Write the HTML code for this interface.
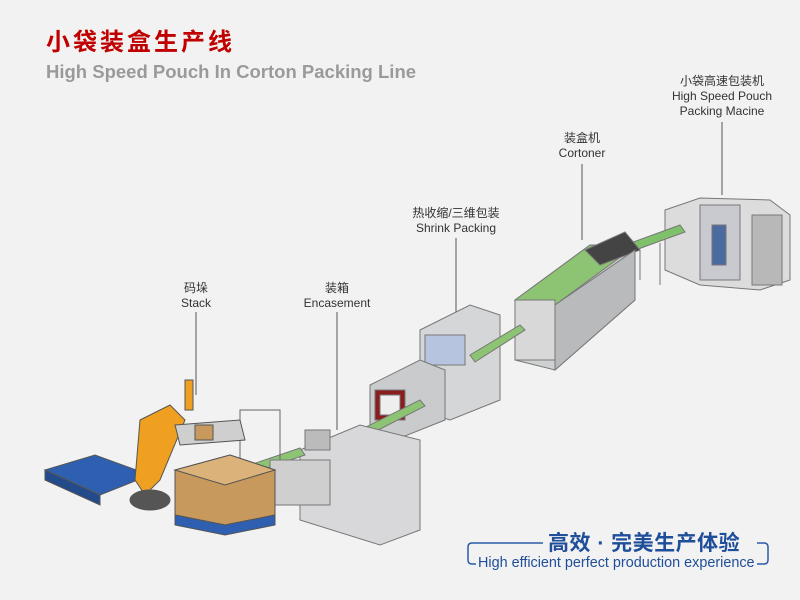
<!DOCTYPE html>
<html><head><meta charset="utf-8"><style>
body{margin:0;width:800px;height:600px;background:#f2f2f2;overflow:hidden;font-family:"Liberation Sans","Noto Sans CJK SC",sans-serif;position:relative}
.t{position:absolute;white-space:nowrap;text-align:center;color:#333;font-size:12px;line-height:15px}
</style></head><body>
<div class="t" style="left:46px;top:29px;font-size:24px;line-height:28px;color:#c00000;font-weight:bold;letter-spacing:3px">小袋装盒生产线</div>
<div class="t" style="left:46px;top:61px;font-size:18.5px;line-height:21px;color:#9a9a9a;font-weight:bold">High Speed Pouch In Corton Packing Line</div>

<div class="t" style="left:662px;top:74px;width:120px">小袋高速包装机<br>High Speed Pouch<br>Packing Macine</div>
<div class="t" style="left:540px;top:131px;width:84px">装盒机<br>Cortoner</div>
<div class="t" style="left:400px;top:206px;width:112px">热收缩/三维包装<br>Shrink Packing</div>
<div class="t" style="left:300px;top:281px;width:74px">装箱<br>Encasement</div>
<div class="t" style="left:166px;top:281px;width:60px">码垛<br>Stack</div>

<svg width="800" height="600" style="position:absolute;left:0;top:0">
<g stroke="#555" stroke-width="1">
<line x1="722" y1="122" x2="722" y2="195"/>
<line x1="582" y1="164" x2="582" y2="240"/>
<line x1="456" y1="238" x2="456" y2="330"/>
<line x1="337" y1="312" x2="337" y2="430"/>
<line x1="196" y1="312" x2="196" y2="395"/>
</g>
<g stroke="#777" stroke-width="1">
<polygon points="665,210 700,198 770,200 790,215 790,280 760,290 700,285 665,270" fill="#dcdcdc"/>
<rect x="700" y="205" width="40" height="75" fill="#c8cad0"/>
<rect x="752" y="215" width="30" height="70" fill="#b8b8b8"/>
<rect x="712" y="225" width="14" height="40" fill="#4a6aa0"/>
<polygon points="625,245 680,225 685,232 630,252" fill="#7fc06a"/>
<line x1="640" y1="250" x2="640" y2="280"/><line x1="660" y1="243" x2="660" y2="285"/>
</g>
<g stroke="#777" stroke-width="1">
<polygon points="515,300 590,245 635,245 635,300 555,370 515,360" fill="#cfd0d2"/>
<polygon points="515,300 590,245 630,250 555,305" fill="#8cc474"/>
<polygon points="585,250 625,232 640,250 600,265" fill="#444"/>
<polygon points="555,305 635,250 635,300 555,370" fill="#b9babc"/>
<rect x="515" y="300" width="40" height="60" fill="#d8d8d8"/>
</g>
<g stroke="#777" stroke-width="1">
<polygon points="420,330 470,305 500,315 500,400 450,420 420,410" fill="#d5d6d8"/>
<rect x="425" y="335" width="40" height="30" fill="#b7c4e0"/>
<polygon points="470,355 520,325 525,330 475,362" fill="#8cc474"/>
<polygon points="370,385 420,360 445,370 445,420 395,440 370,430" fill="#cacbcd"/>
<rect x="375" y="390" width="30" height="30" fill="#8a1c1c"/>
<rect x="380" y="395" width="20" height="20" fill="#eee"/>
<polygon points="340,440 420,400 425,406 345,447" fill="#8cc474"/>
</g>
<g stroke="#777" stroke-width="1">
<polygon points="300,450 360,425 420,440 420,530 380,545 300,520" fill="#d8d8da"/>
<rect x="305" y="430" width="25" height="20" fill="#bbb"/>
<polygon points="250,465 300,448 305,455 255,472" fill="#8cc474"/>
<rect x="240" y="410" width="40" height="90" fill="none" stroke="#666"/>
<polygon points="270,460 330,460 330,505 270,505" fill="#cfcfcf"/>
</g>
<g stroke="#555" stroke-width="1">
<polygon points="45,470 95,455 150,475 100,495" fill="#2f5fb0"/>
<polygon points="45,470 100,495 100,505 45,480" fill="#234a8a"/>
<polygon points="175,470 230,455 275,470 275,515 225,525 175,515" fill="#c7995c"/>
<polygon points="175,515 225,525 275,515 275,525 225,535 175,525" fill="#2f5fb0"/>
<polygon points="175,470 230,455 275,470 225,485" fill="#dbb27a"/>
<polygon points="140,420 170,405 185,420 160,480 145,495 135,480" fill="#f0a020"/>
<rect x="185" y="380" width="8" height="30" fill="#f0a020"/>
<ellipse cx="150" cy="500" rx="20" ry="10" fill="#555"/>
<polygon points="175,425 240,420 245,440 180,445" fill="#cfcfcf"/>
<rect x="195" y="425" width="18" height="15" fill="#c7995c"/>
</g>
<g stroke="#2b5aa8" stroke-width="1.5" fill="none">
<path d="M543,543 H472 Q468,543 468,547 V560 Q468,564 472,564 H476"/>
<path d="M757,543 H764 Q768,543 768,547 V560 Q768,564 764,564 H757"/>
</g>
</svg>
<div class="t" style="left:548px;top:531px;font-size:21px;line-height:25px;color:#1f4e9a;font-weight:bold;letter-spacing:0.5px">高效 · 完美生产体验</div>
<div class="t" style="left:478px;top:555px;font-size:14.4px;line-height:17px;color:#1f4e9a">High efficient perfect production experience</div>
</body></html>
